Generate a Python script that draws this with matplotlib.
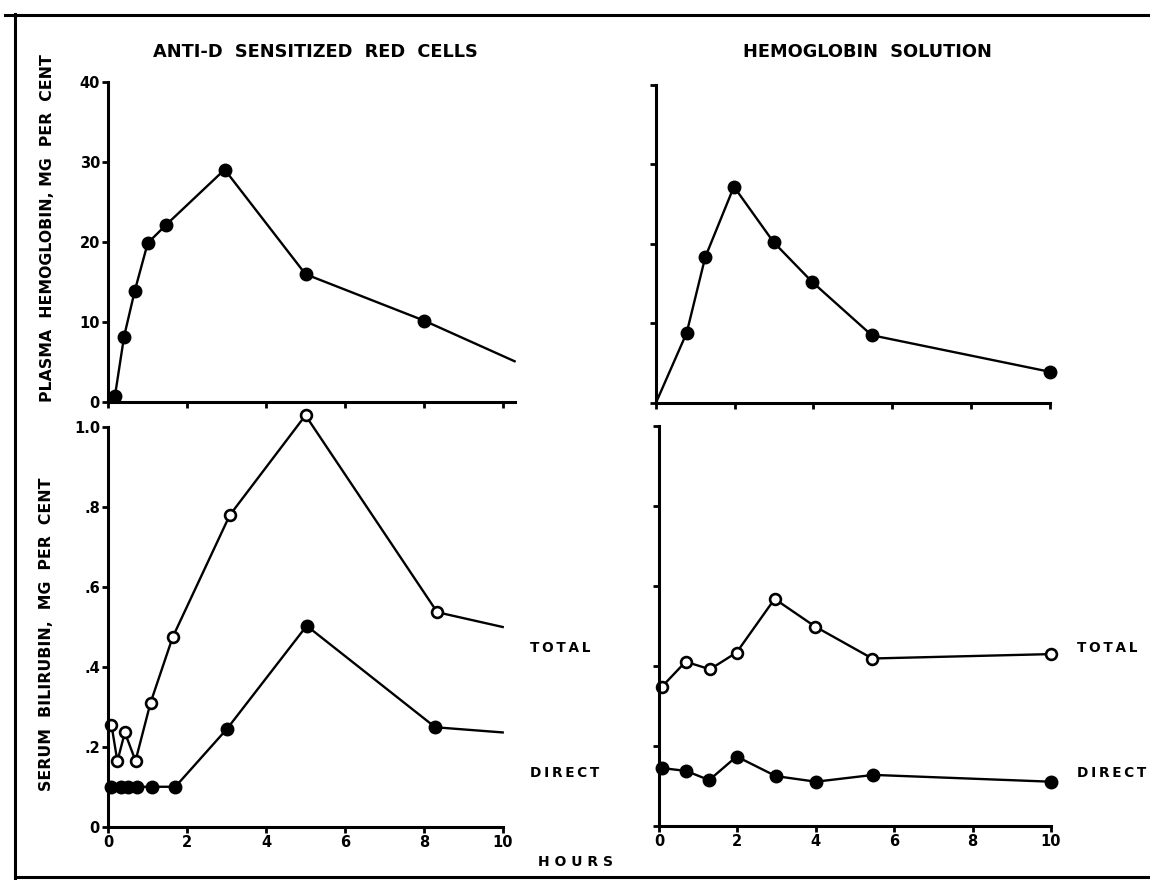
import matplotlib
matplotlib.use("Agg")
import matplotlib.pyplot as plt
from matplotlib.lines import Line2D

W, H = 1150, 880
plt.rcParams['font.family'] = ['DejaVu Sans']
plt.rcParams['font.weight'] = 'bold'

# ---------------- data ----------------
left_hb_hours = [0.17, 0.40, 0.67, 1.00, 1.47, 2.95, 5.00, 8.00, 10.3]
left_hb_mg = [0.8, 8.2, 13.9, 19.9, 22.2, 29.1, 16.0, 10.2, 5.1]

right_hb_hours = [0.0, 0.78, 1.25, 1.98, 2.99, 3.97, 5.48, 10.0]
right_hb_mg = [0.0, 8.8, 18.3, 27.2, 20.2, 15.2, 8.5, 3.9]

left_total_hours = [0.08, 0.23, 0.42, 0.69, 1.07, 1.63, 3.08, 5.00, 8.34, 10.0]
left_total = [0.255, 0.164, 0.236, 0.165, 0.31, 0.474, 0.78, 1.03, 0.537, 0.50]

left_direct_hours = [0.06, 0.31, 0.49, 0.73, 1.11, 1.70, 3.01, 5.03, 8.29, 10.0]
left_direct = [0.10, 0.10, 0.10, 0.10, 0.10, 0.10, 0.245, 0.503, 0.249, 0.236]

right_total_hours = [0.08, 0.68, 1.30, 1.98, 2.95, 3.98, 5.44, 10.0]
right_total = [0.348, 0.41, 0.391, 0.433, 0.567, 0.498, 0.418, 0.429]

right_direct_hours = [0.08, 0.69, 1.28, 1.98, 2.98, 4.00, 5.47, 10.0]
right_direct = [0.144, 0.137, 0.114, 0.173, 0.124, 0.110, 0.127, 0.110]

hour_ticks = [0, 2, 4, 6, 8, 10]
hour_labels = ['0', '2', '4', '6', '8', '10']
hb_ticks = [0, 10, 20, 30, 40]
hb_labels = ['0', '10', '20', '30', '40']
bili_ticks = [0, 0.2, 0.4, 0.6, 0.8, 1.0]
bili_labels = ['0', '.2', '.4', '.6', '.8', '1.0']

titles = ['ANTI-D  SENSITIZED  RED  CELLS', 'HEMOGLOBIN  SOLUTION']
ylabel_top = 'PLASMA  HEMOGLOBIN, MG  PER  CENT'
ylabel_bottom = 'SERUM  BILIRUBIN,  MG  PER  CENT'
TS = '\u2009'
series_labels = [TS.join('TOTAL'), TS.join('DIRECT')]
xlabel = 'H O U R S'

# ---------------- figure ----------------
fig = plt.figure(figsize=(W / 100, H / 100), dpi=100)


def rect(left, right, top, bottom):
    return [left / W, 1 - bottom / H, (right - left) / W, (bottom - top) / H]


def style(ax, xlim, ylim, yticks, ylabels, xlabels):
    ax.set_xlim(*xlim)
    ax.set_ylim(*ylim)
    for s in ('top', 'right'):
        ax.spines[s].set_visible(False)
    for s in ('left', 'bottom'):
        ax.spines[s].set_linewidth(2.2)
    ax.set_xticks(hour_ticks)
    ax.set_xticklabels(hour_labels if xlabels else [''] * len(hour_ticks))
    ax.set_yticks(yticks)
    ax.set_yticklabels(ylabels if ylabels else [''] * len(yticks))
    ax.tick_params(direction='out', length=4, width=2, labelsize=10.5, pad=2)
    ax.patch.set_alpha(0)


filled = dict(color='black', lw=1.7, marker='o', ms=9, mfc='black', mec='black', clip_on=False)
hollow = dict(color='black', lw=1.7, marker='o', ms=7.8, mfc='white', mec='black', mew=1.9, clip_on=False)

# top-left
ax1 = fig.add_axes(rect(108.3, 514.6, 82.5, 402))
style(ax1, (0, 10.3), (0, 40), hb_ticks, hb_labels, False)
ax1.plot(left_hb_hours, left_hb_mg, markevery=list(range(len(left_hb_hours) - 1)), **filled)

# top-right
ax2 = fig.add_axes(rect(656, 1049.5, 85, 402.7))
style(ax2, (0, 10), (0, 40), hb_ticks, None, False)
ax2.plot(right_hb_hours, right_hb_mg, markevery=list(range(1, len(right_hb_hours))), **filled)

# bottom-left
ax3 = fig.add_axes(rect(108.3, 502.7, 427.3, 826.7))
style(ax3, (0, 10), (0, 1.0), bili_ticks, bili_labels, True)
ax3.plot(left_total_hours, left_total, markevery=list(range(len(left_total_hours) - 1)), **hollow)
ax3.plot(left_direct_hours, left_direct, markevery=list(range(len(left_direct_hours) - 1)), **filled)

# bottom-right
ax4 = fig.add_axes(rect(659, 1051, 425.7, 825.7))
style(ax4, (0, 10), (0, 1.0), bili_ticks, None, True)
ax4.plot(right_total_hours, right_total, **hollow)
ax4.plot(right_direct_hours, right_direct, **filled)

# ---------------- texts ----------------
def ftext(x, y, s, **kw):
    fig.text(x / W, 1 - y / H, s, fontweight='bold', **kw)


ftext(315, 52, titles[0], ha='center', va='center', fontsize=12.8)
ftext(867, 52, titles[1], ha='center', va='center', fontsize=12.8)
ftext(48, 228, ylabel_top, ha='center', va='center', rotation=90, fontsize=11.3)
ftext(47, 634, ylabel_bottom, ha='center', va='center', rotation=90, fontsize=11.3)
for x0 in (530, 1077):
    ftext(x0, 648, series_labels[0], ha='left', va='center', fontsize=9.8)
    ftext(x0, 773, series_labels[1], ha='left', va='center', fontsize=9.8)
ftext(575, 862, xlabel, ha='center', va='center', fontsize=10)

# ---------------- frame ----------------
for xs, ys in (((15, 15), (14, 880)), ((5, 1150), (15, 15)), ((15, 1150), (877, 877))):
    fig.add_artist(Line2D([x / W for x in xs], [1 - y / H for y in ys],
                          transform=fig.transFigure, color='black', lw=2.2))

fig.savefig('out.png', dpi=100, facecolor='white')
